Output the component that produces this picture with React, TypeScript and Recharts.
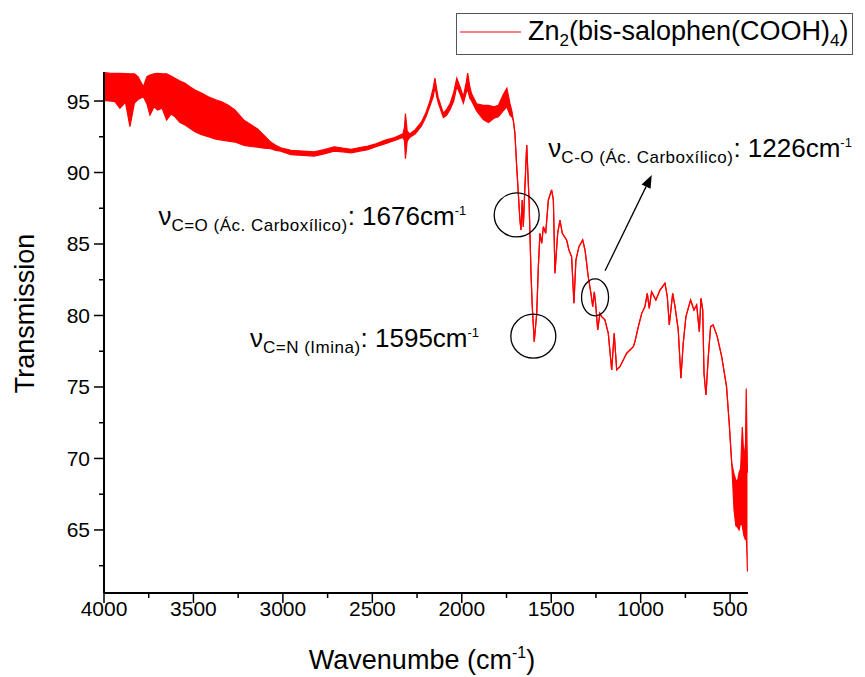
import React from "react";
import {
  ComposedChart,
  Area,
  XAxis,
  YAxis,
  Label,
  Legend,
  ReferenceDot,
  ReferenceLine,
} from "recharts";

const font = "'Liberation Sans', Arial, Helvetica, sans-serif";
const red = "#ff0000";

// 4000-1720 cm-1: noisy baseline, read as upper and lower edge of the trace
const baseWavenumber = [
  4000, 3970, 3939, 3911, 3880, 3855, 3830, 3810, 3780, 3760, 3743, 3720, 3700,
  3675, 3650, 3625, 3603, 3575, 3547, 3520, 3491, 3455, 3417, 3380, 3342, 3305,
  3268, 3217, 3180, 3143, 3105, 3068, 3040, 3012, 2955, 2890, 2825, 2770, 2713,
  2665, 2618, 2570, 2525, 2480, 2431, 2375, 2329, 2320, 2315, 2305, 2291, 2260,
  2225, 2200, 2178, 2160, 2150, 2140, 2132, 2103, 2085, 2066, 2045, 2028, 2010,
  1991, 1975, 1967, 1955, 1945, 1917, 1880, 1851, 1820, 1795, 1770, 1748, 1730,
  1720,
];
const baseHigh = [
  96.98, 96.95, 96.94, 96.94, 96.92, 96.9, 96.9, 96.7, 96.0, 96.7, 96.82, 96.9,
  96.94, 96.9, 96.9, 96.75, 96.59, 96.4, 96.24, 96.0, 95.77, 95.55, 95.3, 95.1,
  94.95, 94.7, 94.37, 93.65, 93.35, 93.06, 92.6, 92.13, 91.9, 91.73, 91.55, 91.5,
  91.45, 91.6, 91.8, 91.7, 91.62, 91.75, 91.85, 92.0, 92.25, 92.45, 92.7, 93.2,
  94.12, 92.9, 92.7, 93.0, 93.55, 94.2, 95.0, 95.9, 96.6, 95.8, 95.25, 94.15,
  94.4, 94.8, 95.6, 96.6, 96.0, 95.3, 96.3, 96.95, 96.0, 95.5, 94.8, 94.7, 94.7,
  94.6, 94.7, 95.4, 95.9, 94.8, 94.3,
];
const baseLow = [
  95.02, 95.0, 94.95, 94.49, 94.93, 93.2, 94.86, 95.1, 95.3, 94.8, 94.02, 94.6,
  94.37, 94.5, 93.67, 94.1, 93.9, 93.5, 93.32, 93.1, 92.85, 92.65, 92.5, 92.35,
  92.27, 92.2, 92.13, 91.9, 91.82, 91.78, 91.7, 91.66, 91.55, 91.5, 91.25, 91.2,
  91.15, 91.3, 91.5, 91.45, 91.38, 91.5, 91.6, 91.8, 92.0, 92.25, 92.45, 92.2,
  90.96, 92.2, 92.45, 92.7, 93.25, 93.9, 94.65, 95.3, 96.0, 95.3, 94.9, 93.85,
  94.0, 94.4, 95.0, 96.0, 95.5, 94.85, 95.6, 95.8, 95.2, 95.0, 94.3, 93.7, 93.5,
  93.8, 93.9, 94.3, 94.6, 94.0, 93.9,
];

// 1712-491 cm-1: clean fingerprint region
const peakWavenumber = [
  1712, 1703, 1693, 1684, 1675, 1669, 1662, 1656, 1647, 1637, 1632, 1624, 1613,
  1606, 1595, 1581, 1572, 1563, 1553, 1544, 1531, 1516, 1498, 1488, 1479, 1464,
  1451, 1438, 1414, 1401, 1386, 1373, 1362, 1345, 1324, 1311, 1293, 1278, 1268,
  1259, 1252, 1240, 1228, 1218, 1200, 1181, 1162, 1148, 1134, 1116, 1078, 1041,
  1032, 1013, 994, 976, 963, 952, 939, 915, 892, 864, 851, 840, 821, 808, 790,
  775, 762, 747, 721, 702, 687, 672, 663, 653, 646, 635, 622, 609, 595, 572, 547,
  520, 505, 491,
];
const peakTransmission = [
  93.67, 92.74, 90.41, 88.55, 86.68, 85.98, 88.08, 86.21, 89.01, 91.92, 90.41,
  88.08, 82.95, 80.62, 78.17, 80.15, 83.41, 85.75, 85.05, 86.21, 85.75, 88.08,
  88.78, 88.08, 82.95, 85.75, 86.68, 85.75, 85.28, 84.58, 84.11, 80.85, 83.88,
  84.81, 85.28, 84.58, 82.71, 81.55, 80.62, 81.66, 80.85, 78.99, 80.15, 79.92,
  79.69, 78.75, 76.19, 78.75, 76.19, 76.42, 77.36, 77.82, 78.17, 79.22, 80.15,
  80.62, 81.55, 80.5, 81.66, 81.08, 81.78, 82.25, 81.31, 79.34, 81.55, 80.62,
  78.99, 75.61, 78.06, 79.92, 81.08, 80.38, 80.73, 78.87, 81.2, 80.38, 75.96,
  74.44, 77.12, 79.22, 79.34, 78.52, 77.12, 75.02, 72.46, 69.66,
];

// 478-403 cm-1: noisy tail
const tailWavenumber = [478, 468, 459, 450, 441, 432, 423, 414, 410, 403];
const tailHigh = [68.9, 68.5, 68.4, 69.0, 69.3, 72.2, 70.0, 71.0, 74.9, 69.0];
const tailLow = [66.4, 65.3, 65.2, 65.0, 65.5, 65.3, 64.6, 64.3, 64.8, 62.1];

const xTicks = [
  4000, 3750, 3500, 3250, 3000, 2750, 2500, 2250, 2000, 1750, 1500, 1250, 1000,
  750, 500,
];
const yTicks = [
  62.5, 65, 67.5, 70, 72.5, 75, 77.5, 80, 82.5, 85, 87.5, 90, 92.5, 95,
];

const data = [
  ...baseWavenumber.map((w, i) => ({ w, t: [baseLow[i], baseHigh[i]] })),
  ...peakWavenumber.map((w, i) => ({
    w,
    t: [peakTransmission[i], peakTransmission[i]],
  })),
  ...tailWavenumber.map((w, i) => ({ w, t: [tailLow[i], tailHigh[i]] })),
];

function XTick({ x, y, payload }: any) {
  const major = payload.value % 500 === 0;
  return (
    <g>
      <line x1={x} y1={y} x2={x} y2={y + (major ? 10 : 5)} stroke="#000" strokeWidth={1.5} />
      {major && (
        <text x={x} y={y + 23} textAnchor="middle" fontSize={21} fontFamily={font} fill="#000">
          {payload.value}
        </text>
      )}
    </g>
  );
}

function YTick({ x, y, payload }: any) {
  const major = payload.value % 5 === 0;
  return (
    <g>
      <line x1={x} y1={y} x2={x - (major ? 10 : 5)} y2={y} stroke="#000" strokeWidth={1.5} />
      {major && (
        <text x={x - 14} y={y + 7.5} textAnchor="end" fontSize={21} fontFamily={font} fill="#000">
          {payload.value}
        </text>
      )}
    </g>
  );
}

function XTitle(props: any) {
  const vb = props.viewBox || { x: 104, y: 593, width: 644, height: 84 };
  return (
    <text x={vb.x + vb.width / 2 - 4} y={vb.y + 76} textAnchor="middle" fontSize={27} fontFamily={font} fill="#000">
      Wavenumbe (cm
      <tspan fontSize={16} dy={-11}>-1</tspan>
      <tspan dy={11}>)</tspan>
    </text>
  );
}

function YTitle(props: any) {
  const vb = props.viewBox || { x: 0, y: 72, width: 104, height: 521 };
  const cx = vb.x + 34;
  const cy = vb.y + vb.height / 2 - 19;
  return (
    <text x={cx} y={cy} transform={`rotate(-90, ${cx}, ${cy})`} textAnchor="middle" fontSize={27} fontFamily={font} fill="#000">
      Transmission
    </text>
  );
}

function PeakLabel({ cx, cy, bond, note, value }: any) {
  return (
    <text x={cx} y={cy} fontFamily={font} fill="#000">
      <tspan fontSize={26}>ν</tspan>
      <tspan fontSize={17} dy={6.5} letterSpacing={0.5}>
        {bond + " " + note}
      </tspan>
      <tspan fontSize={26} dy={-6.5}>{": " + value + "cm"}</tspan>
      <tspan fontSize={13} dy={-10}>-1</tspan>
    </text>
  );
}

const ring = (rx: number, ry: number) => (p: any) =>
  <ellipse cx={p.cx} cy={p.cy} rx={rx} ry={ry} fill="none" stroke="#000" strokeWidth={1.3} />;

function Arrow({ x1, y1, x2, y2 }: any) {
  const a = Math.atan2(y2 - y1, x2 - x1);
  const len = 13;
  const half = 5;
  const bx = x2 - len * Math.cos(a);
  const by = y2 - len * Math.sin(a);
  const pts = [
    [x2, y2],
    [bx + half * Math.sin(a), by - half * Math.cos(a)],
    [bx - half * Math.sin(a), by + half * Math.cos(a)],
  ]
    .map((p) => p.join(","))
    .join(" ");
  return (
    <g>
      <line x1={x1} y1={y1} x2={bx} y2={by} stroke="#000" strokeWidth={1.3} />
      <polygon points={pts} fill="#000" />
    </g>
  );
}

const sub = { fontSize: 17, position: "relative" as const, top: 6 };

function LegendBox() {
  return (
    <div
      style={{
        width: 397,
        height: 42,
        border: "1.3px solid #555",
        boxSizing: "border-box",
        position: "relative",
        fontFamily: font,
        background: "#fff",
      }}
    >
      <svg width={70} height={40} style={{ position: "absolute", left: 0, top: 0 }}>
        <line x1={3} y1={18} x2={64} y2={18} stroke={red} strokeWidth={1} />
      </svg>
      <span
        style={{
          position: "absolute",
          left: 71,
          top: 2,
          fontSize: 27,
          lineHeight: "30px",
          whiteSpace: "nowrap",
          color: "#000",
        }}
      >
        Zn<span style={sub}>2</span>(bis-salophen(COOH)<span style={sub}>4</span>)
      </span>
    </div>
  );
}

export default function App() {
  return (
    <div style={{ position: "absolute", left: 0, top: 0, width: 865, height: 677, background: "#fff" }}>
      <ComposedChart
        width={865}
        height={677}
        data={data}
        margin={{ top: 72, right: 117, bottom: 0, left: 0 }}
      >
        <XAxis
          dataKey="w"
          type="number"
          domain={[400, 4000]}
          reversed
          allowDataOverflow
          ticks={xTicks}
          interval={0}
          tick={<XTick />}
          tickLine={false}
          tickSize={0}
          tickMargin={0}
          height={84}
          axisLine={{ stroke: "#000", strokeWidth: 2 }}
        >
          <Label content={(p: any) => <XTitle {...p} />} />
        </XAxis>
        <YAxis
          type="number"
          domain={[60.59, 97.03]}
          allowDataOverflow
          ticks={yTicks}
          interval={0}
          tick={<YTick />}
          tickLine={false}
          tickSize={0}
          tickMargin={0}
          width={104}
          axisLine={{ stroke: "#000", strokeWidth: 2 }}
        >
          <Label content={(p: any) => <YTitle {...p} />} />
        </YAxis>
        <Legend
          layout="vertical"
          align="center"
          verticalAlign="middle"
          content={<LegendBox />}
          wrapperStyle={{ left: 456, top: 13, right: "auto", bottom: "auto", width: 397, height: 42 }}
        />
        <Area
          type="linear"
          dataKey="t"
          name="Zn2(bis-salophen(COOH)4)"
          stroke={red}
          strokeWidth={1.2}
          fill={red}
          fillOpacity={1}
          dot={false}
          activeDot={false}
          isAnimationActive={false}
        />
        <ReferenceDot x={1693} y={87.03} shape={ring(22.5, 22)} />
        <ReferenceDot x={1600} y={78.55} shape={ring(22.5, 22)} />
        <ReferenceDot x={1255} y={81.27} shape={ring(13.5, 18.5)} />
        <ReferenceLine
          segment={[
            { x: 1199, y: 83.13 },
            { x: 938, y: 89.83 },
          ]}
          shape={(p: any) => <Arrow {...p} />}
        />
        <ReferenceDot
          x={3696}
          y={86.36}
          shape={(p: any) => <PeakLabel {...p} bond="C=O" note="(Ác. Carboxílico)" value={1676} />}
        />
        <ReferenceDot
          x={3184}
          y={77.82}
          shape={(p: any) => <PeakLabel {...p} bond="C=N" note="(Imina)" value={1595} />}
        />
        <ReferenceDot
          x={1516}
          y={91.1}
          shape={(p: any) => <PeakLabel {...p} bond="C-O" note="(Ác. Carboxílico)" value={1226} />}
        />
      </ComposedChart>
    </div>
  );
}
